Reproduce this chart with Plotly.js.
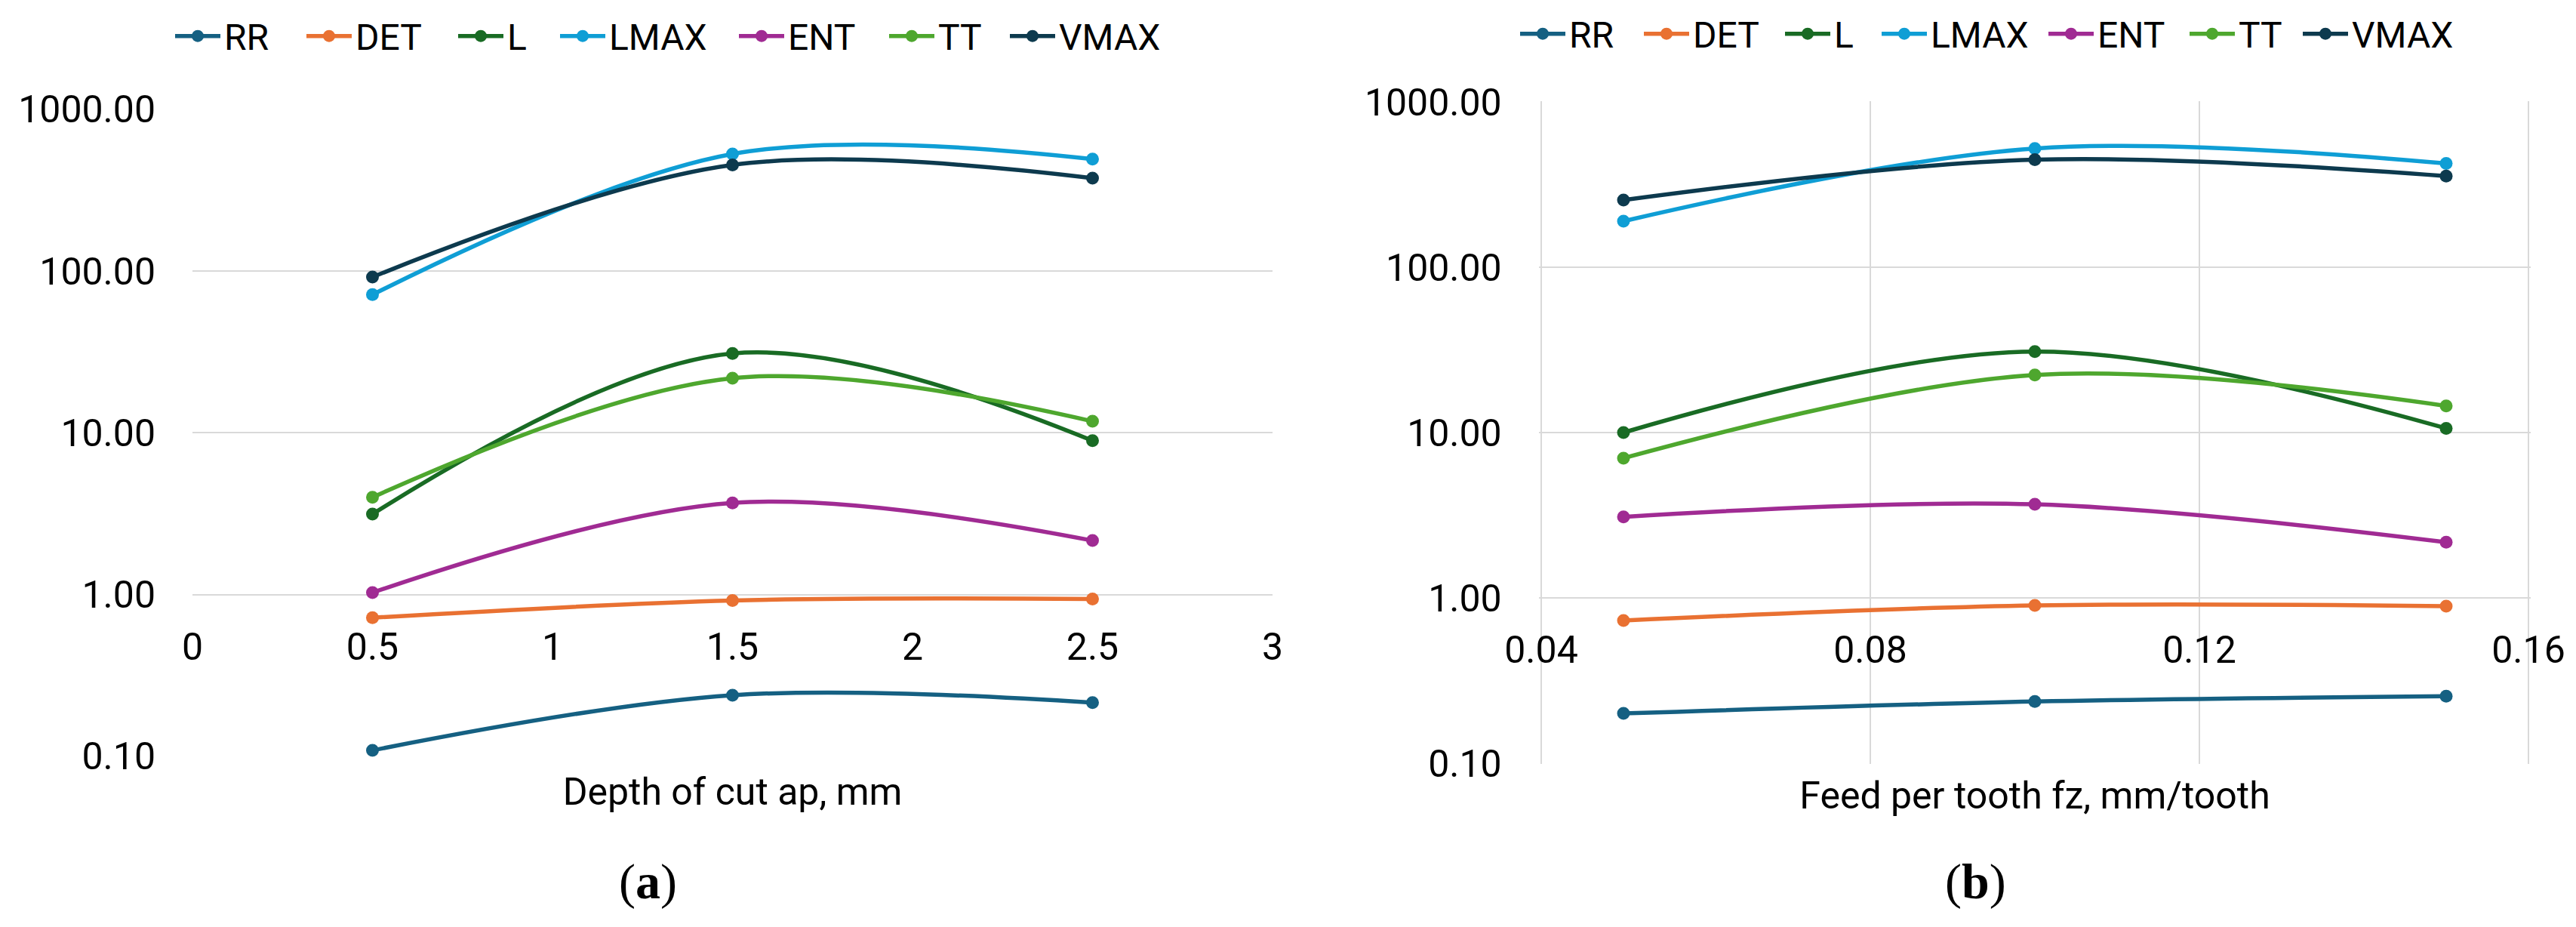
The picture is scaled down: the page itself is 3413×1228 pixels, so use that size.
<!DOCTYPE html>
<html>
<head>
<meta charset="utf-8">
<script src="https://cdn.plot.ly/plotly-3.0.1.min.js"></script>
<style>html,body{margin:0;padding:0;background:#fff;}#chart{width:3413px;height:1228px;}</style>
</head>
<body>
<div id="chart"></div>
<script>
// ---- data ----
const seriesNames = ["RR", "DET", "L", "LMAX", "ENT", "TT", "VMAX"];
const seriesColors = ["#156082", "#E97132", "#196B24", "#0F9ED5", "#A02B93", "#4EA72E", "#0D3A4E"];

// panel (a): depth of cut ap, mm
const depthOfCut = [0.5, 1.5, 2.5];
const depthRR   = [0.109, 0.239, 0.215];
const depthDET  = [0.72, 0.92, 0.94];
const depthL    = [3.15, 31.0, 8.96];
const depthLMAX = [71.6, 530, 493];
const depthENT  = [1.03, 3.69, 2.16];
const depthTT   = [4.0, 21.8, 11.8];
const depthVMAX = [92, 454, 376];

// panel (b): feed per tooth fz, mm/tooth
const feedPerTooth = [0.05, 0.10, 0.15];
const feedRR   = [0.20, 0.236, 0.254];
const feedDET  = [0.73, 0.90, 0.89];
const feedL    = [10.0, 30.9, 10.6];
const feedLMAX = [190, 523, 424];
const feedENT  = [3.09, 3.68, 2.17];
const feedTT   = [7.0, 22.3, 14.5];
const feedVMAX = [255, 447, 356];

// tick labels
const yTickVals = [0.1, 1, 10, 100, 1000];
const yTickText = ["0.10", "1.00", "10.00", "100.00", "1000.00"];
const xTickValsA = [0, 0.5, 1, 1.5, 2, 2.5, 3];
const xTickTextA = ["0", "0.5", "1", "1.5", "2", "2.5", "3"];
const xTickValsB = [0.04, 0.08, 0.12, 0.16];
const xTickTextB = ["0.04", "0.08", "0.12", "0.16"];

const xTitleA = "Depth of cut ap, mm";
const xTitleB = "Feed per tooth fz, mm/tooth";
const panelLabels = ["(<b>a</b>)", "(<b>b</b>)"];

// ---- layout geometry (pixels) ----
const W = 3413, H = 1228;
const FONT = "Roboto, 'Liberation Sans', Arial, sans-serif";
const GRID = "#D9D9D9";
const px = v => v / W, py = v => 1 - v / H;

const aLeft = 255, aRight = 1686, aTop = 145, aBot = 1002;
const bLeft = 2042, bRight = 3350, bTop = 135, bBot = 1011;
// legend text start positions (px) for each item, and legend vertical centres
const legTextA = [297, 471, 672, 807, 1044, 1243, 1403];
const legTextB = [2079, 2243, 2430, 2558, 2779, 2966, 3116];
const legYA = 48, legYB = 45;
const ITEMW = 60;           // legend symbol area width
const TEXTGAP = ITEMW + 10; // text offset from item start

const yPad = 0.003; // tiny range padding so edge gridlines are drawn
function yDom(top, bot) {
  const dec = (bot - top) / 4;
  return [py(bot + yPad * dec), py(top - yPad * dec)];
}
function yOnePos(top, bot) { // paper y of value 1 (log 0)
  const dec = (bot - top) / 4;
  return py(bot - dec);
}

// ---- traces ----
const depthSeries = [depthRR, depthDET, depthL, depthLMAX, depthENT, depthTT, depthVMAX];
const feedSeries = [feedRR, feedDET, feedL, feedLMAX, feedENT, feedTT, feedVMAX];

const legendKey = n => (n === 1 ? "legend" : "legend" + n);

function mk(x, y, i, xa, ya, leg) {
  return {
    type: "scatter", mode: "lines+markers",
    x: x, y: y, name: seriesNames[i],
    xaxis: xa, yaxis: ya, legend: leg,
    line: {color: seriesColors[i], width: 5.5, shape: "spline", smoothing: 1},
    marker: {color: seriesColors[i], size: 17},
    hoverinfo: "x+y+name"
  };
}
const traces = [];
depthSeries.forEach((s, i) => traces.push(mk(depthOfCut, s, i, "x", "y", legendKey(i + 1))));
feedSeries.forEach((s, i) => traces.push(mk(feedPerTooth, s, i, "x2", "y2", legendKey(i + 8))));

const tickFont = {family: FONT, size: 50, color: "#000"};

function yAxis(dom, anchor) {
  return {
    domain: dom, type: "log", range: [-1 - yPad, 3 + yPad], anchor: anchor,
    tickmode: "array", tickvals: yTickVals, ticktext: yTickText,
    showgrid: true, gridcolor: GRID, gridwidth: 2,
    zeroline: false, showline: false, ticks: "",
    tickfont: tickFont, ticklabelstandoff: 48, fixedrange: true
  };
}
function xAxis(dom, range, tv, tt, pos, grid, title) {
  return {
    domain: dom, range: range, anchor: "free", position: pos,
    tickmode: "array", tickvals: tv, ticktext: tt,
    showgrid: grid, gridcolor: GRID, gridwidth: 2,
    zeroline: false, showline: false, ticks: "",
    tickfont: tickFont, ticklabelstandoff: 35,
    title: {text: title, font: {family: FONT, size: 50, color: "#000"}, standoff: 146},
    fixedrange: true
  };
}

const xPadB = 0.0003;
const bUnit = (bRight - bLeft) / 0.12;

const layout = {
  width: W, height: H,
  margin: {l: 0, r: 0, t: 0, b: 0, pad: 0},
  paper_bgcolor: "#fff", plot_bgcolor: "#fff",
  showlegend: true,
  xaxis: xAxis([px(aLeft), px(aRight)], [0, 3], xTickValsA, xTickTextA, yOnePos(aTop, aBot), false, xTitleA),
  yaxis: yAxis(yDom(aTop, aBot), "x"),
  xaxis2: xAxis([px(bLeft - xPadB * bUnit), px(bRight + xPadB * bUnit)], [0.04 - xPadB, 0.16 + xPadB],
                xTickValsB, xTickTextB, yOnePos(bTop, bBot), true, xTitleB),
  yaxis2: yAxis(yDom(bTop, bBot), "x2"),
  annotations: [
    {xref: "paper", yref: "paper", x: px(858), y: py(1168), text: panelLabels[0], showarrow: false,
     xanchor: "center", yanchor: "middle", font: {family: "'Liberation Serif', 'DejaVu Serif', serif", size: 66, color: "#000"}},
    {xref: "paper", yref: "paper", x: px(2617), y: py(1168), text: panelLabels[1], showarrow: false,
     xanchor: "center", yanchor: "middle", font: {family: "'Liberation Serif', 'DejaVu Serif', serif", size: 66, color: "#000"}}
  ]
};

function legendAt(textStart, yc) {
  return {
    orientation: "h", font: {family: FONT, size: 48, color: "#000"},
    xanchor: "left", yanchor: "middle", x: px(textStart - TEXTGAP), y: py(yc),
    bgcolor: "rgba(0,0,0,0)", itemwidth: ITEMW, borderwidth: 0
  };
}
legTextA.forEach((t, i) => { layout[legendKey(i + 1)] = legendAt(t, legYA); });
legTextB.forEach((t, i) => { layout[legendKey(i + 8)] = legendAt(t, legYB); });

Plotly.newPlot("chart", traces, layout, {staticPlot: true, displayModeBar: false});
</script>
</body>
</html>
